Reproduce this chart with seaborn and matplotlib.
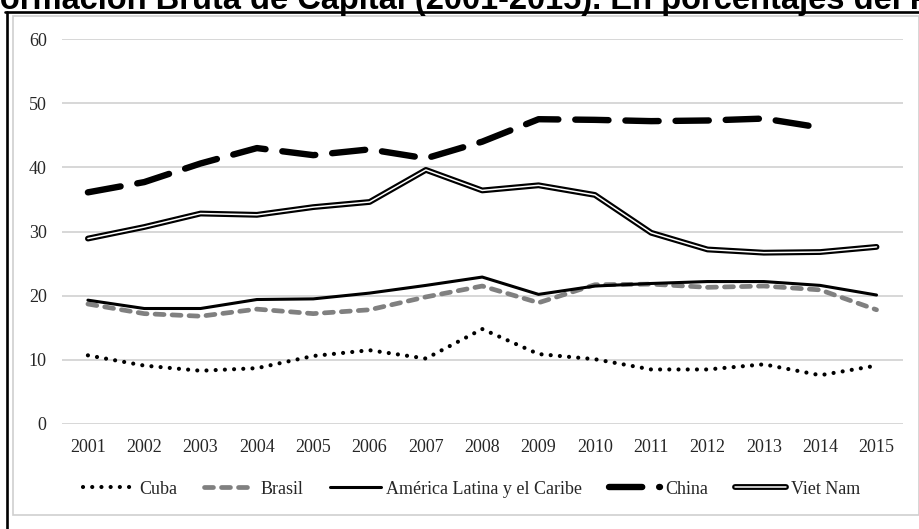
import numpy as np
import pandas as pd
import matplotlib
matplotlib.use("Agg")
import matplotlib.pyplot as plt
import matplotlib.patheffects as pe
from matplotlib.lines import Line2D
from matplotlib.patches import Rectangle
import seaborn as sns

# Formación Bruta de Capital, % del PIB
years = list(range(2001, 2016))
cuba = [10.7, 9.1, 8.3, 8.7, 10.6, 11.5, 10.2, 14.8, 10.9, 10.1, 8.5, 8.5, 9.3, 7.6, 9.1]
brasil = [18.7, 17.2, 16.8, 17.9, 17.2, 17.8, 19.8, 21.5, 18.9, 21.7, 21.8, 21.3, 21.5, 20.9, 17.8]
america_latina = [19.3, 18.0, 18.0, 19.4, 19.5, 20.4, 21.6, 22.9, 20.2, 21.5, 21.9, 22.2, 22.2, 21.6, 20.1]
china = [36.1, 37.7, 40.6, 43.0, 41.9, 42.8, 41.4, 44.0, 47.5, 47.4, 47.2, 47.3, 47.6, 46.2, np.nan]
viet_nam = [28.9, 30.7, 32.8, 32.6, 33.8, 34.6, 39.6, 36.4, 37.2, 35.7, 29.8, 27.2, 26.7, 26.8, 27.6]

series_names = ["Cuba", "Brasil", "América Latina y el Caribe", "China", "Viet Nam"]
y_ticks = [0, 10, 20, 30, 40, 50, 60]

df = pd.DataFrame({
    "year": years,
    "Cuba": cuba,
    "Brasil": brasil,
    "América Latina y el Caribe": america_latina,
    "China": china,
    "Viet Nam": viet_nam,
})

sns.set_theme(style="white")
plt.rcParams["font.family"] = ["Liberation Serif", "DejaVu Serif"]

W, H = 920, 529
fig = plt.figure(figsize=(W / 100, H / 100), dpi=100)
fig.patch.set_facecolor("white")

ax = fig.add_axes([62 / W, (H - 424) / H, 841 / W, 385 / H])
ax.set_facecolor("white")

styles = {
    "Cuba": dict(color="black", lw=3.0, linestyle=(0, (0.01, 2.2)),
                 dash_capstyle="round", solid_capstyle="round"),
    "Brasil": dict(color="#808080", lw=3.4, linestyle=(0, (1.9, 1.7)),
                   dash_capstyle="round"),
    "América Latina y el Caribe": dict(color="black", lw=2.2,
                                       solid_joinstyle="round"),
    "China": dict(color="black", lw=4.6, linestyle=(0, (5.2, 2.65)),
                  dash_capstyle="round"),
    "Viet Nam": dict(color="white", lw=1.1, solid_joinstyle="round",
                     path_effects=[pe.Stroke(linewidth=4.2, foreground="black",
                                             joinstyle="round"),
                                   pe.Normal()]),
}

for name in series_names:
    sns.lineplot(data=df, x="year", y=name, ax=ax, label=name,
                 legend=False, estimator=None, sort=False, **styles[name])

ax.set_xlim(2001 - 0.46, 2015 + 0.47)
ax.set_ylim(0, 60)
ax.set_xticks(years)
ax.set_xticklabels([str(y) for y in years])
ax.set_yticks(y_ticks)
ax.set_yticklabels([str(v) for v in y_ticks])
ax.set_xlabel("")
ax.set_ylabel("")
for s in ax.spines.values():
    s.set_visible(False)
ax.grid(axis="y", color="#d4d4d4", lw=1.3)
ax.grid(axis="x", visible=False)
ax.set_axisbelow(True)
ax.tick_params(axis="both", length=0, labelsize=13, colors="#262626")
ax.tick_params(axis="x", pad=11)
ax.tick_params(axis="y", pad=11)

handles, labels = ax.get_legend_handles_labels()
fig.legend(handles, labels, loc="center", bbox_to_anchor=(472 / W, (H - 489) / H),
           ncol=5, frameon=False, fontsize=13, handlelength=2.8,
           handletextpad=0.3, columnspacing=1.5, labelcolor="#262626")

# Cropped title above the frame
title = "Formación Bruta de Capital (2001-2015). En porcentajes del PIB"
tprops = dict(fontsize=23.5, fontweight="bold", family=["Liberation Sans", "DejaVu Sans"],
              color="black", va="baseline", ha="left")
renderer = fig.canvas.get_renderer()
probe = fig.text(0, 0, "F", **tprops)
f_width = probe.get_window_extent(renderer).width
probe.remove()
fig.text(-f_width / W, 1 - 9 / H, title, **tprops)

# Outer black frame (top and left) and inner light box
fig.add_artist(Line2D([5 / W, 1], [1 - 12 / H, 1 - 12 / H], color="black", lw=1.9,
                      transform=fig.transFigure))
fig.add_artist(Line2D([7.5 / W, 7.5 / W], [0, 1 - 12 / H], color="black", lw=1.9,
                      transform=fig.transFigure))
fig.add_artist(Rectangle((13 / W, (H - 515) / H), (919 - 13) / W, (515 - 16) / H,
                         fill=False, edgecolor="#cfcfcf", lw=1.2,
                         transform=fig.transFigure))

fig.savefig("out.png", dpi=100)
